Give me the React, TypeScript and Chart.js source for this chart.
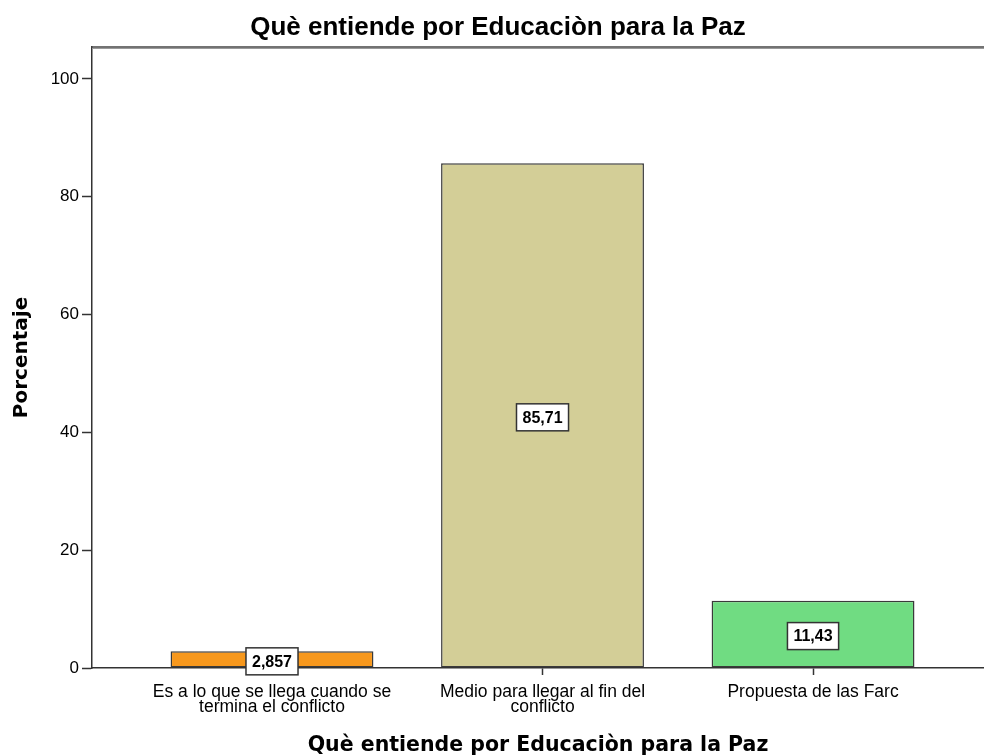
import React, { useEffect, useRef } from "react";
import { Chart, registerables } from "chart.js";

Chart.register(...registerables);

const chartTitle = "Què entiende por Educaciòn para la Paz";
const xAxisTitle = "Què entiende por Educaciòn para la Paz";
const yAxisTitle = "Porcentaje";
const categories: string[][] = [
  ["Es a lo que se llega cuando se", "termina el conflicto"],
  ["Medio para llegar al fin del", "conflicto"],
  ["Propuesta de las Farc"],
];
const percentages = [2.857, 85.71, 11.43];
const barColors = ["#F7981D", "#D3CE97", "#70DC82"];
const yTicks = [0, 20, 40, 60, 80, 100];

const fmt = (v: number) => v.toPrecision(4).replace(".", ",");

const decorPlugin = {
  id: "decor",
  afterDraw(chart: any) {
    const ctx = chart.ctx;
    const area = chart.chartArea;
    ctx.save();
    // top frame line
    ctx.strokeStyle = "#9a9a9a";
    ctx.lineWidth = 1;
    ctx.beginPath();
    ctx.moveTo(area.left, area.top + 1.5);
    ctx.lineTo(area.right, area.top + 1.5);
    ctx.stroke();
    ctx.strokeStyle = "#444";
    ctx.lineWidth = 1.5;
    ctx.beginPath();
    ctx.moveTo(area.left - 0.75, area.top);
    ctx.lineTo(area.right, area.top);
    ctx.stroke();
    // chart title
    ctx.fillStyle = "#000";
    ctx.font = "bold 26px 'Liberation Sans', Arial";
    ctx.textAlign = "center";
    ctx.textBaseline = "middle";
    ctx.fillText(chartTitle, 498, 28);
    // value labels
    const meta = chart.getDatasetMeta(0);
    ctx.font = "bold 16px 'Liberation Sans', Arial";
    meta.data.forEach((bar: any, i: number) => {
      const text = fmt(percentages[i]);
      const cy = (bar.y + bar.base) / 2 + 2;
      const w = ctx.measureText(text).width + 12;
      const h = 27;
      ctx.fillStyle = "#fff";
      ctx.fillRect(bar.x - w / 2, cy - h / 2, w, h);
      ctx.strokeStyle = "#333";
      ctx.lineWidth = 1.5;
      ctx.strokeRect(bar.x - w / 2, cy - h / 2, w, h);
      ctx.fillStyle = "#000";
      ctx.fillText(text, bar.x, cy + 1);
    });
    ctx.restore();
  },
};

export default function App() {
  const ref = useRef<HTMLCanvasElement | null>(null);
  useEffect(() => {
    document.body.style.margin = "0";
    const canvas = ref.current!;
    const chart = new Chart(canvas, {
      type: "bar",
      data: {
        datasets: [
          {
            data: percentages.map((v, i) => ({ x: i + 1, y: v })),
            backgroundColor: barColors,
            borderColor: "#3a3a3a",
            borderWidth: 1.5,
            borderSkipped: false,
            categoryPercentage: 1,
            barPercentage: 0.75,
          },
        ],
      },
      options: {
        animation: false,
        responsive: false,
        events: [],
        layout: { padding: { top: 47, left: 0, right: 0, bottom: 0 } },
        plugins: {
          legend: { display: false },
          tooltip: { enabled: false },
          title: { display: false },
        },
        scales: {
          x: {
            type: "linear",
            offset: false,
            min: 0.3346,
            max: 3.632,
            afterBuildTicks: (scale: any) => {
              scale.ticks = categories.map((_, i) => ({ value: i + 1 }));
            },
            afterFit: (scale: any) => {
              scale.height = 88;
            },
            ticks: {
              autoSkip: false,
              maxRotation: 0,
              minRotation: 0,
              padding: 9,
              color: "#000",
              font: { family: "'Liberation Sans', Arial", size: 17.5, lineHeight: 0.88 },
              callback: (v: any) => categories[Math.round(Number(v)) - 1] ?? "",
            },
            grid: {
              offset: false,
              drawOnChartArea: false,
              drawTicks: true,
              tickLength: 7,
              tickWidth: 1.5,
              tickColor: "#333",
            },
            border: { display: true, color: "#333", width: 1.5 },
            title: {
              display: true,
              text: xAxisTitle,
              color: "#000",
              font: { family: "'DejaVu Sans'", size: 20.5, weight: "bold", lineHeight: 1.0 },
              padding: { top: 0, bottom: 0 },
            },
          },
          y: {
            type: "linear",
            min: 0,
            max: 105.43,
            afterBuildTicks: (scale: any) => {
              scale.ticks = yTicks.map((v) => ({ value: v }));
            },
            afterFit: (scale: any) => {
              scale.width = 92;
            },
            ticks: {
              padding: 3,
              color: "#000",
              font: { family: "'Liberation Sans', Arial", size: 17 },
            },
            grid: {
              drawOnChartArea: false,
              drawTicks: true,
              tickLength: 10,
              tickWidth: 1.5,
              tickColor: "#333",
            },
            border: { display: true, color: "#333", width: 1.5 },
            title: {
              display: true,
              text: yAxisTitle,
              color: "#000",
              font: { family: "'DejaVu Sans'", size: 20, weight: "bold" },
              padding: { top: 10, bottom: 0 },
            },
          },
        },
      },
      plugins: [decorPlugin],
    } as any);
    return () => chart.destroy();
  }, []);
  return <canvas ref={ref} width={984} height={756} style={{ display: "block" }} />;
}
